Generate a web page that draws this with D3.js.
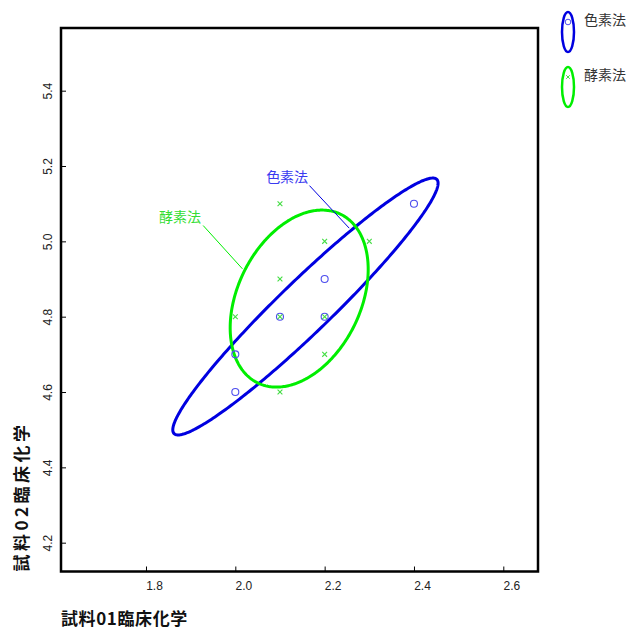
<!DOCTYPE html>
<html><head><meta charset="utf-8">
<script src="https://cdn.jsdelivr.net/npm/d3@7"></script>
<style>body{margin:0;background:#fff}svg{display:block}</style>
</head><body>
<svg id="c" width="632" height="630"></svg>
<script>
const methods = ["色素法", "酵素法"];
const pigmentX = [2.0, 2.0, 2.1, 2.2, 2.2, 2.4];
const pigmentY = [4.6, 4.7, 4.8, 4.8, 4.9, 5.1];
const enzymeX = [2.1, 2.2, 2.3, 2.1, 2.0, 2.1, 2.2, 2.2, 2.1];
const enzymeY = [5.1, 5.0, 5.0, 4.9, 4.8, 4.8, 4.8, 4.7, 4.6];
const ellipseCenterX = [2.157, 2.143];
const ellipseCenterY = [4.827, 4.848];
const ellipseHalfX = [0.297, 0.1545];
const ellipseHalfY = [0.341, 0.235];
const ellipseCorr = [0.96, 0.33];
const labelX = [2.116, 1.876];
const labelY = [5.17, 5.064];
const leaderFromX = [2.166, 1.928];
const leaderFromY = [5.148, 5.042];
const leaderToX = [2.255, 2.016];
const leaderToY = [5.035, 4.927];
const xTicks = [1.8, 2.0, 2.2, 2.4, 2.6];
const yTicks = [4.2, 4.4, 4.6, 4.8, 5.0, 5.2, 5.4];
const xTitle = "試料01臨床化学";
const yTitle = "試料02臨床化学";

const svg = d3.select("#c");
const L = 61, R = 538, T = 28, B = 571.5;
const x = d3.scaleLinear().domain([1.6097, 2.6777]).range([L, R]);
const y = d3.scaleLinear().domain([4.1235, 5.5664]).range([B, T]);
const jp = "'Noto Sans CJK JP', 'Noto Sans', sans-serif";
const num = "'Liberation Sans Narrow', 'Liberation Sans', Arial, sans-serif";

const ellColor = ["#0000e0", "#00ee00"];
const ptColor = ["#4d4dee", "#44dd44"];
const lblColor = ["#3a3af0", "#33dd33"];

// ticks (inward)
const gx = svg.append("g").attr("transform", `translate(0,${B})`)
  .call(d3.axisBottom(x).tickValues(xTicks).tickSizeInner(-5).tickSizeOuter(0).tickFormat(d3.format(".1f")));
gx.select(".domain").remove();
gx.selectAll(".tick line").attr("stroke", "#000");
gx.selectAll(".tick text").attr("x", 8).attr("y", 10).attr("font-family", num).attr("font-size", 12).attr("fill", "#222");

const gy = svg.append("g").attr("transform", `translate(${L},0)`)
  .call(d3.axisLeft(y).tickValues(yTicks).tickSizeInner(-5).tickSizeOuter(0).tickFormat(d3.format(".1f")));
gy.select(".domain").remove();
gy.selectAll(".tick line").attr("stroke", "#000");
gy.selectAll(".tick text").attr("x", 0).attr("dy", 0).attr("text-anchor", "middle")
  .attr("transform", "translate(-9,0) rotate(-90)").attr("font-family", num).attr("font-size", 12).attr("fill", "#222");

// box
svg.append("rect").attr("x", L).attr("y", T).attr("width", R - L).attr("height", B - T)
  .attr("fill", "none").attr("stroke", "#000").attr("stroke-width", 2.5);

// ellipses
function ellipsePts(i) {
  const d = Math.acos(ellipseCorr[i]);
  return d3.range(0, 361).map(k => {
    const t = k * Math.PI / 180;
    return [x(ellipseCenterX[i] + ellipseHalfX[i] * Math.cos(t)),
            y(ellipseCenterY[i] + ellipseHalfY[i] * Math.cos(t + d))];
  });
}
const line = d3.line();
[0, 1].forEach(i => {
  svg.append("path").attr("d", line(ellipsePts(i)) + "Z").attr("fill", "none")
    .attr("stroke", ellColor[i]).attr("stroke-width", 3);
});

// points
svg.append("g").selectAll("circle").data(pigmentX.map((v, i) => [v, pigmentY[i]])).join("circle")
  .attr("cx", d => x(d[0])).attr("cy", d => y(d[1])).attr("r", 3.5)
  .attr("fill", "none").attr("stroke", ptColor[0]).attr("stroke-width", 1.1);
const cs = 2.4;
svg.append("g").selectAll("path").data(enzymeX.map((v, i) => [v, enzymeY[i]])).join("path")
  .attr("d", d => { const px = x(d[0]), py = y(d[1]);
    return `M${px-cs},${py-cs}L${px+cs},${py+cs}M${px-cs},${py+cs}L${px+cs},${py-cs}`; })
  .attr("stroke", ptColor[1]).attr("stroke-width", 1.1);

// labels with leader lines
[0, 1].forEach(i => {
  svg.append("line").attr("x1", x(leaderFromX[i])).attr("y1", y(leaderFromY[i]))
    .attr("x2", x(leaderToX[i])).attr("y2", y(leaderToY[i]))
    .attr("stroke", ellColor[i]).attr("stroke-width", 1);
  svg.append("text").attr("x", x(labelX[i])).attr("y", y(labelY[i])).attr("dy", "0.35em")
    .attr("text-anchor", "middle").attr("font-family", jp).attr("font-size", 14)
    .attr("fill", lblColor[i]).text(methods[i]);
});

// legend
const legY = [32, 87];
methods.forEach((m, i) => {
  const g = svg.append("g");
  g.append("ellipse").attr("cx", 568).attr("cy", legY[i]).attr("rx", 6).attr("ry", 20)
    .attr("fill", "none").attr("stroke", ellColor[i]).attr("stroke-width", 2.5);
  if (i === 0) {
    g.append("circle").attr("cx", 568).attr("cy", legY[i] - 10).attr("r", 2.8)
      .attr("fill", "none").attr("stroke", ptColor[0]).attr("stroke-width", 1);
  } else {
    const px = 568, py = legY[i] - 10, s = 1.8;
    g.append("path").attr("d", `M${px-s},${py-s}L${px+s},${py+s}M${px-s},${py+s}L${px+s},${py-s}`)
      .attr("stroke", ptColor[1]).attr("stroke-width", 1);
  }
  g.append("text").attr("x", 584).attr("y", legY[i] - 12).attr("dy", "0.35em")
    .attr("font-family", jp).attr("font-size", 14).attr("fill", "#333").text(m);
});

// axis titles
svg.append("text").attr("x", L).attr("y", 619).attr("dy", "0.35em")
  .attr("font-family", jp).attr("font-weight", "bold").attr("font-size", 17).attr("letter-spacing", 0.6)
  .attr("fill", "#111").text(xTitle);
svg.append("text").attr("transform", `translate(22,${B}) rotate(-90)`).attr("dy", "0.35em")
  .attr("font-family", jp).attr("font-weight", "bold").attr("font-size", 17).attr("letter-spacing", 3.5)
  .attr("fill", "#111").text(yTitle);
</script>
</body></html>
